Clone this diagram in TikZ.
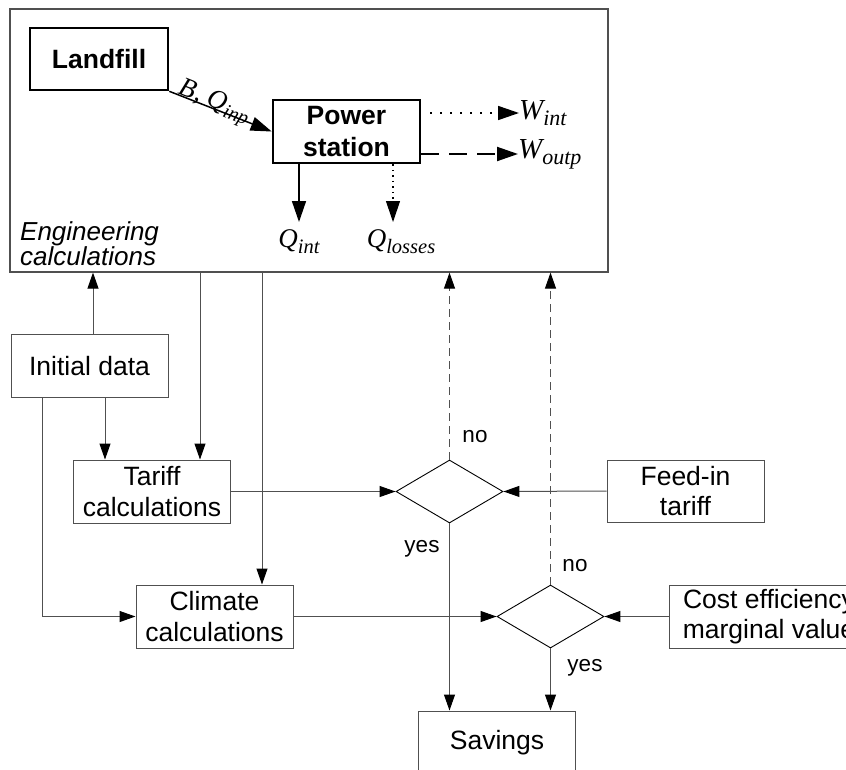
\documentclass[tikz,border=0pt]{standalone}
\usepackage{fontspec}
\setmainfont{Liberation Sans}
\newfontfamily\tmsfont{Liberation Serif}
\usetikzlibrary{arrows.meta,shapes.geometric,calc}
\definecolor{linegray}{HTML}{505050}
\newcommand\mainsz{\fontsize{26.5}{30.5}\selectfont}
\newcommand\boldsz{\fontsize{26.5}{32}\selectfont}
\newcommand\smallsz{\fontsize{22.5}{26}\selectfont}
\newcommand\mvar[2]{{\tmsfont\itshape\fontsize{27}{30}\selectfont #1\raisebox{-6pt}{\fontsize{20.5}{22}\selectfont #2}}}
\newcommand\wvar[2]{{\tmsfont\itshape\fontsize{29}{30}\selectfont #1\raisebox{-6pt}{\fontsize{22}{22}\selectfont #2}}}
\tikzset{
  outerbox/.style={draw=linegray, line width=1.2pt, inner sep=0pt},
  box/.style={draw=linegray, line width=1pt, minimum width=157, minimum height=63, inner sep=0pt, align=center, font=\mainsz},
  heavybox/.style={draw=black, line width=2.6pt, inner sep=0pt, align=center, font=\bfseries\boldsz},
  dia/.style={diamond, draw=black, line width=0.9pt, minimum width=107, minimum height=63, inner sep=0pt},
  lbl/.style={inner sep=0pt, font=\smallsz},
  mlbl/.style={inner sep=0pt},
  arr/.style={draw=linegray, line width=1pt, -{Triangle[length=16pt,width=11pt,color=black]}},
  dasharr/.style={arr, dash pattern=on 8pt off 5pt},
  bigarr/.style={draw=black, line width=1.5pt, -{Triangle[length=21pt,width=14pt]}},
  dotarr/.style={bigarr, line width=1.6pt, dash pattern=on 1.6pt off 8.4pt},
  smalldotarr/.style={bigarr, line width=1.1pt, dash pattern=on 1.2pt off 4.3pt},
  longdasharr/.style={bigarr, line width=2pt, dash pattern=on 18pt off 10pt}
}
\begin{document}
\begin{tikzpicture}[x=1pt,y=-1pt]
\useasboundingbox (0,0) rectangle (846,769);

% engineering block
\node[outerbox, minimum width=598, minimum height=263] (eng) at (309,140.5) {};
\node[heavybox, minimum width=138, minimum height=62] (lf) at (99,59) {Landfill};
\node[heavybox, minimum width=147, minimum height=63] (ps) at (346.5,131.5) {Power\\station};
\node[mlbl, anchor=west] (wint) at (519,113) {\wvar{W}{int}};
\node[mlbl, anchor=west] (woutp) at (518,154) {\wvar{W}{outp}};
\node[mlbl, anchor=north] (qint) at (299,229) {\mvar{Q}{int}};
\node[mlbl, anchor=north] (qlos) at (401,229) {\mvar{Q}{losses}};
\node[inner sep=0pt, anchor=north west, align=left, font=\itshape\fontsize{26}{25.5}\selectfont] (englbl) at (20,221) {Engineering\\calculations};

\draw[bigarr] (lf.south east) -- node[sloped, anchor=base, pos=0.42, inner sep=0pt, yshift=1pt] (bq) {\tmsfont\itshape\fontsize{27}{28}\selectfont B, Q\raisebox{-5pt}{\fontsize{20}{20}\selectfont inp}} (ps.west);
\draw[dotarr] ([xshift=9pt]ps.east |- wint.west) -- (wint.west);
\draw[longdasharr] (ps.east |- woutp.west) -- (woutp.west);
\draw[bigarr, shorten >=7pt] (ps.south -| qint.north) -- (qint.north);
\draw[smalldotarr, shorten >=7pt] (ps.south -| 393,0) -- (qlos.north -| 393,0);

% lower blocks
\node[box] (init) at (89.5,366) {Initial data};
\node[box] (tariff) at (152,491.5) {Tariff\\calculations};
\node[box] (climate) at (214.5,616.5) {Climate\\calculations};
\node[box, minimum height=62] (feed) at (685.5,491) {Feed-in\\tariff};
\node[box, minimum width=200] (cost) at (769,616.5) {Cost efficiency\\marginal value};
\node[box] (sav) at (497,742.5) {Savings};
\node[dia] (d1) at (449.5,491.5) {};
\node[dia] (d2) at (550.5,616.5) {};

\node[lbl] (no1) at (475,437) {no};
\node[lbl] (yes1) at (422,549) {yes};
\node[lbl] (no2) at (575,566) {no};
\node[lbl] (yes2) at (585,668) {yes};

% connectors
\draw[arr] (init.north -| 93,0) -- (eng.south -| 93,0);
\draw[arr] (init.south -| 105,0) -- (tariff.north -| 105,0);
\draw[arr] (eng.south -| 200,0) -- (tariff.north -| 200,0);
\draw[arr] (eng.south -| 262,0) -- (climate.north -| 262,0);
\draw[arr] (init.south -| 42,0) |- (climate.west);
\draw[arr] (tariff.east) -- (d1.west);
\draw[arr] (feed.west) -- (d1.east);
\draw[arr] (climate.east) -- (d2.west);
\draw[arr] (cost.west) -- (d2.east);
\draw[arr] (d1.south) -- (d1.south |- sav.north);
\draw[arr] (d2.south) -- (d2.south |- sav.north);
\draw[dasharr] (d1.north) -- (d1.north |- eng.south);
\draw[dasharr] (d2.north) -- (d2.north |- eng.south);
\end{tikzpicture}
\end{document}
